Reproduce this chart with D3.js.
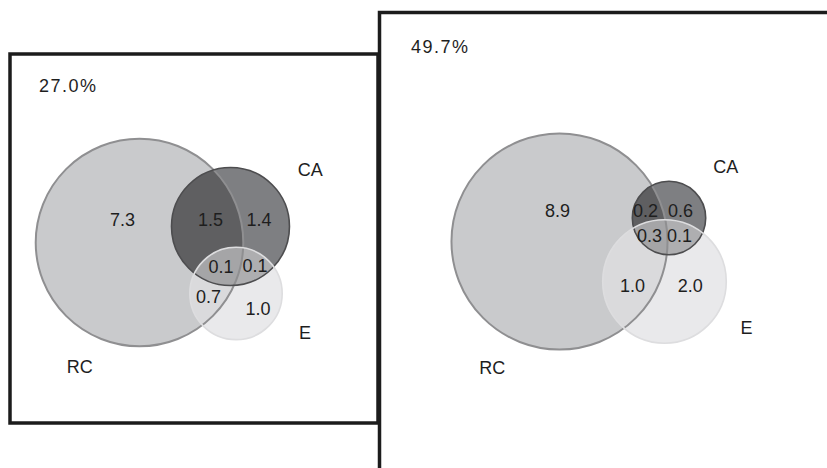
<!DOCTYPE html>
<html>
<head>
<meta charset="utf-8">
<script src="https://cdn.jsdelivr.net/npm/d3@7"></script>
<style>
  body { margin: 0; background: #fff; }
  text { font-family: "Liberation Sans", Arial, sans-serif; fill: #1e1e1e; }
</style>
</head>
<body>
<div id="chart"></div>
<script>
// Data
const setNames = ["RC", "CA", "E"];
const panelShares = ["27.0%", "49.7%"];
// regions: which sets each area belongs to
const regionSets = [["RC"], ["RC", "CA"], ["CA"], ["RC", "CA", "E"], ["CA", "E"], ["RC", "E"], ["E"]];
const leftValues = [7.3, 1.5, 1.4, 0.1, 0.1, 0.7, 1.0];
const rightValues = [8.9, 0.2, 0.6, 0.3, 0.1, 1.0, 2.0];

const width = 827;
const height = 468;
const unit = 33.5; // px per sqrt(value)

// Region fill colours
const regionColor = {
    "RC": "#c9cacc",
    "RC,CA": "#5f5f61",
    "CA": "#7e7f82",
    "RC,CA,E": "#a5a5a7",
    "CA,E": "#aeaeb0",
    "RC,E": "#dadadc",
    "E": "#e9e9eb"
};
const strokeColor = { RC: "#8f8f91", CA: "#4d4d4f", E: "#dddddf" };

// Layout per panel (centres and label spots in radius units around RC centre)
const panels = [
    {
        values: leftValues, share: panelShares[0],
        frame: { x: 10, y: 54, w: 368, h: 369 }, shareAt: [39, 92],
        origin: [139.5, 242.5],
        centers: { RC: [0, 0], CA: [2.716, -0.478], E: [2.881, 1.522] },
        regionAt: [[-0.51, -0.49], [2.12, -0.49], [3.57, -0.49], [2.43, 0.91], [3.45, 0.88], [2.06, 1.81], [3.54, 2.16]],
        nameAt: { RC: [-1.78, 3.9], CA: [5.1, -1.99], E: [4.94, 2.88] }
    },
    {
        values: rightValues, share: panelShares[1],
        frame: { x: 379.5, y: 12.5, w: 460, h: 470 }, shareAt: [411, 53],
        origin: [559.5, 241.5],
        centers: { RC: [0, 0], CA: [3.269, -0.701], E: [3.134, 1.194] },
        regionAt: [[-0.06, -0.73], [2.57, -0.73], [3.61, -0.73], [2.69, 0.01], [3.58, 0.01], [2.18, 1.51], [3.9, 1.51]],
        nameAt: { RC: [-2.01, 3.96], CA: [4.96, -2.04], E: [5.58, 2.76] }
    }
];

const svg = d3.select("#chart")
    .append("svg")
    .attr("width", width)
    .attr("height", height);

svg.append("rect").attr("width", width).attr("height", height).attr("fill", "#fff");

const rScale = d3.scaleSqrt().domain([0, 1]).range([0, unit]);
const defs = svg.append("defs");

panels.forEach((p, pi) => {
    const x = d3.scaleLinear().domain([0, 1]).range([p.origin[0], p.origin[0] + unit]);
    const y = d3.scaleLinear().domain([0, 1]).range([p.origin[1], p.origin[1] + unit]);

    // set totals from the regions
    const totals = {};
    setNames.forEach(s => {
        totals[s] = d3.sum(regionSets.map((k, i) => k.includes(s) ? p.values[i] : 0));
    });
    const circ = s => ({ cx: x(p.centers[s][0]), cy: y(p.centers[s][1]), r: rScale(totals[s]) });

    setNames.forEach(s => {
        const c = circ(s);
        defs.append("clipPath").attr("id", `clip${pi}-${s}`)
            .append("circle").attr("cx", c.cx).attr("cy", c.cy).attr("r", c.r);
    });

    const g = svg.append("g");

    // paint order: by last set, then by number of sets
    const order = regionSets.map((k, i) => i).sort((a, b) => {
        const la = d3.max(regionSets[a], s => setNames.indexOf(s));
        const lb = d3.max(regionSets[b], s => setNames.indexOf(s));
        return la - lb || regionSets[a].length - regionSets[b].length;
    });

    order.forEach(i => {
        const keys = regionSets[i];
        const last = keys[keys.length - 1];
        let holder = g;
        keys.slice(0, -1).forEach(s => {
            holder = holder.append("g").attr("clip-path", `url(#clip${pi}-${s})`);
        });
        const c = circ(last);
        holder.append("circle")
            .attr("cx", c.cx).attr("cy", c.cy).attr("r", c.r)
            .attr("fill", regionColor[keys.join(",")]);
    });

    // outlines
    setNames.forEach(s => {
        const c = circ(s);
        g.append("circle")
            .attr("cx", c.cx).attr("cy", c.cy).attr("r", c.r)
            .attr("fill", "none")
            .attr("stroke", strokeColor[s])
            .attr("stroke-width", s === "RC" ? 2 : 1.6);
    });

    // region values
    g.selectAll(".val")
        .data(p.values)
        .enter().append("text")
        .attr("class", "val")
        .attr("x", (d, i) => x(p.regionAt[i][0]))
        .attr("y", (d, i) => y(p.regionAt[i][1]))
        .attr("text-anchor", "middle")
        .style("font-size", "18px")
        .text(d => d.toFixed(1));

    // set names
    g.selectAll(".name")
        .data(setNames)
        .enter().append("text")
        .attr("class", "name")
        .attr("x", d => x(p.nameAt[d][0]))
        .attr("y", d => y(p.nameAt[d][1]))
        .attr("text-anchor", "middle")
        .style("font-size", "18px")
        .text(d => d);

    g.append("text")
        .attr("x", p.shareAt[0])
        .attr("y", p.shareAt[1])
        .style("font-size", "18px")
        .style("letter-spacing", "1.5px")
        .text(p.share);

    // frame
    svg.append("rect")
        .attr("x", p.frame.x).attr("y", p.frame.y)
        .attr("width", p.frame.w).attr("height", p.frame.h)
        .attr("fill", "none")
        .attr("stroke", "#1c1c1c")
        .attr("stroke-width", 3.5);
});
</script>
</body>
</html>
